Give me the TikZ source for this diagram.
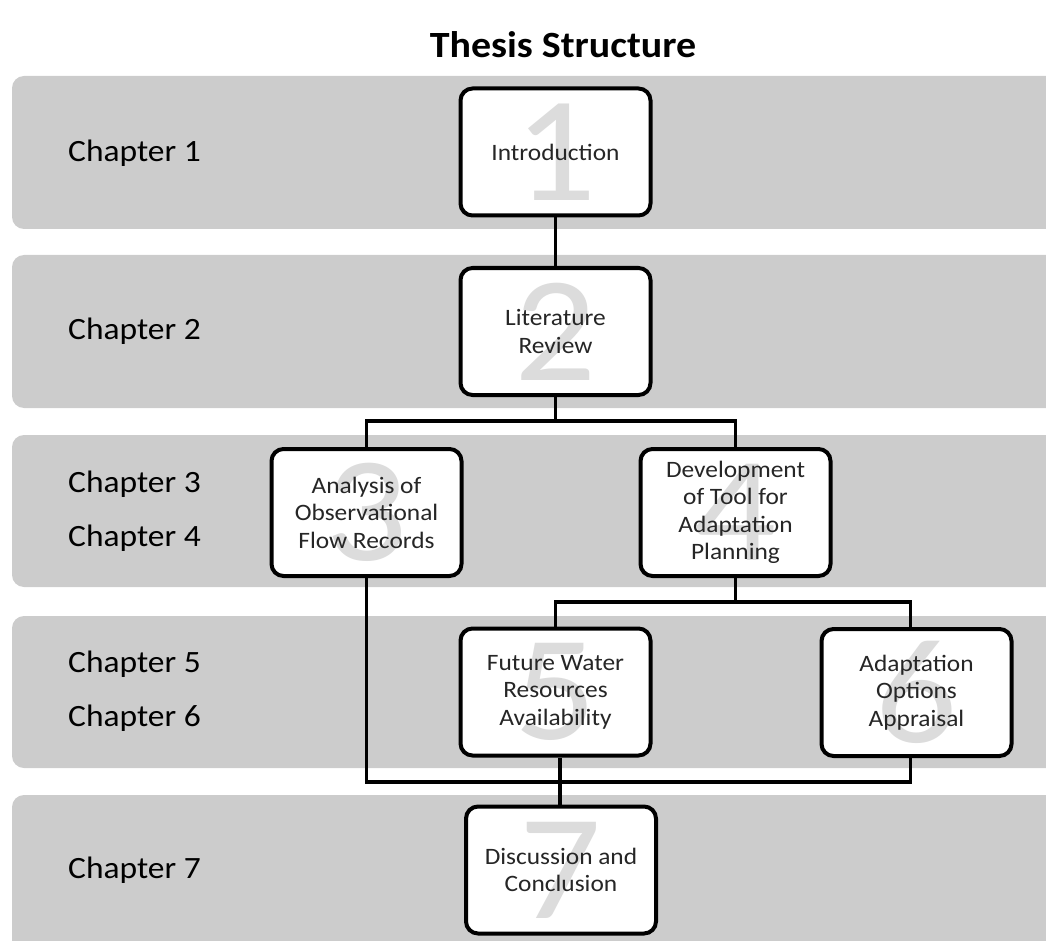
\documentclass[tikz,border=0pt]{standalone}
\usepackage{fontspec}
\setmainfont{Carlito}[FakeStretch=1.08]
\usetikzlibrary{positioning}

\definecolor{bandgray}{HTML}{CCCCCC}
\definecolor{numgray}{HTML}{DCDCDC}

\tikzset{
  band/.style={fill=bandgray, rounded corners=12pt},
  chapbox/.style={draw, line width=4pt, fill=white, rounded corners=12pt,
    minimum width=190pt, minimum height=127pt, align=center,
    font=\fontsize{23.5}{27.5}\selectfont, text=black!85},
  chapnum/.style={path picture={\node[draw=none, fill=none, inner sep=0pt,
    font=\fontsize{150}{150}\selectfont, text=numgray]
    at (path picture bounding box.center) {#1};}},
  chaplabel/.style={anchor=west, inner sep=0pt, font=\fontsize{31}{36}\selectfont},
  link/.style={line width=3.5pt}
}

\begin{document}
\begin{tikzpicture}[x=1pt, y=-1pt]
\useasboundingbox (0,0) rectangle (1046,941);

% grey chapter bands
\begin{scope}
\clip (0,0) rectangle (1046,941);
\foreach \t/\b in {76/229, 255/408, 435/587, 616/768, 795/960}
  \fill[band] (12,\t) rectangle (1070,\b);
\end{scope}

\node[font=\bfseries\fontsize{37}{40}\selectfont] (title) at (563,45) {Thesis Structure};

% chapter names
\node[chaplabel] (c1) at (68,153) {Chapter 1};
\node[chaplabel] (c2) at (68,331) {Chapter 2};
\node[chaplabel] (c3) at (68,484) {Chapter 3};
\node[chaplabel] (c4) at (68,538) {Chapter 4};
\node[chaplabel] (c5) at (68,664) {Chapter 5};
\node[chaplabel] (c6) at (68,718) {Chapter 6};
\node[chaplabel] (c7) at (68,870) {Chapter 7};

% boxes
\node[chapbox, chapnum=1] (b1) at (555.5,152) {Introduction};
\node[chapbox, chapnum=2] (b2) at (555.5,331.5) {Literature\\Review};
\node[chapbox, chapnum=3] (b3) at (366.5,512.5) {Analysis of\\Observational\\Flow Records};
\node[chapbox, chapnum=4] (b4) at (735.5,512.5) {Development\\of Tool for\\Adaptation\\Planning};
\node[chapbox, chapnum=5] (b5) at (555.5,692) {Future Water\\Resources\\Availability};
\node[chapbox, chapnum=6] (b6) at (916.5,692.5) {Adaptation\\Options\\Appraisal};
\node[chapbox, chapnum=7] (b7) at (561,870) {Discussion and\\Conclusion};

% connectors
\coordinate (j1) at (555.5,421);
\coordinate (j2) at (735.5,602);
\coordinate (j3) at (560,782);
\draw[link] (b1) -- (b2);
\draw[link] (b2.south) -- (j1);
\draw[link] (b3.north) |- (j1) -| (b4.north);
\draw[link] (b4.south) -- (j2);
\draw[link] (b5.north) |- (j2) -| ([xshift=-6pt]b6.north);
\draw[link] (b3.south) |- (j3) -| ([xshift=-6pt]b6.south);
\draw[link] (b5.south -| j3) -- (b7.north -| j3);
\end{tikzpicture}
\end{document}
